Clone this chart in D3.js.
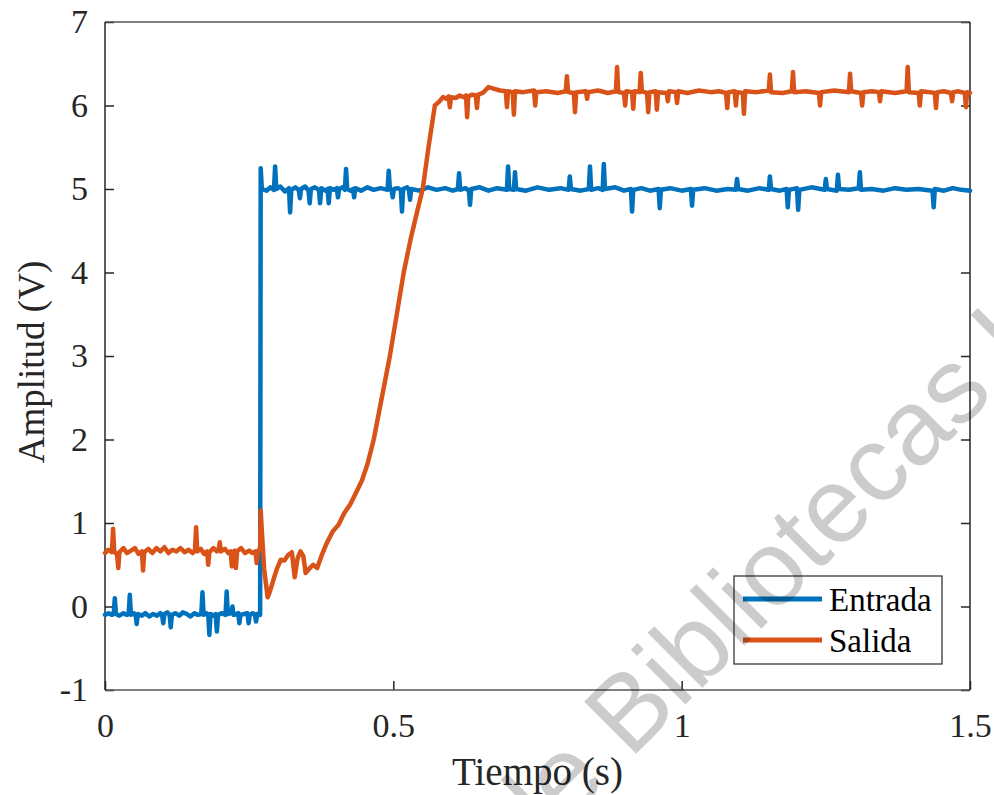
<!DOCTYPE html>
<html>
<head>
<meta charset="utf-8">
<script src="https://cdn.jsdelivr.net/npm/d3@7"></script>
<style>
  body { margin: 0; background: #fff; }
  svg { display: block; }
</style>
</head>
<body>
<svg id="chart" width="994" height="795"></svg>
<script>
// [tiempo (s), amplitud (V)]
var entrada = [
  [0.000,-0.10],[0.006,-0.08],[0.012,-0.10],[0.015,-0.09],[0.017,0.10],[0.019,-0.09],
  [0.025,-0.11],[0.032,-0.08],[0.038,-0.10],[0.041,-0.09],[0.043,0.14],[0.045,-0.10],
  [0.050,-0.08],[0.053,-0.10],[0.055,-0.21],[0.057,-0.09],[0.064,-0.11],[0.070,-0.08],
  [0.077,-0.12],[0.083,-0.09],[0.090,-0.11],[0.096,-0.08],[0.099,-0.10],[0.101,-0.20],
  [0.103,-0.09],[0.108,-0.07],[0.112,-0.10],[0.114,-0.25],[0.116,-0.10],[0.122,-0.08],
  [0.129,-0.11],[0.135,-0.07],[0.142,-0.09],[0.148,-0.12],[0.155,-0.08],[0.161,-0.10],
  [0.167,-0.09],[0.169,0.17],[0.171,-0.10],[0.176,-0.08],[0.179,-0.10],[0.181,-0.34],
  [0.183,-0.09],[0.188,-0.11],[0.192,-0.09],[0.194,-0.30],[0.196,-0.10],[0.203,-0.08],
  [0.209,-0.10],[0.211,0.18],[0.213,-0.09],[0.219,-0.08],[0.221,0.00],[0.223,-0.10],
  [0.229,-0.09],[0.231,-0.08],[0.233,-0.20],[0.235,-0.10],[0.241,-0.09],[0.247,-0.08],
  [0.249,-0.20],[0.251,-0.10],[0.256,-0.08],[0.260,-0.10],[0.262,-0.18],[0.264,-0.09],
  [0.269,-0.10],[0.270,5.25],[0.272,5.00],[0.280,4.98],[0.287,5.02],[0.293,4.99],
  [0.295,5.27],[0.297,5.00],[0.304,5.03],[0.312,4.97],[0.319,5.01],[0.321,4.72],
  [0.323,4.99],[0.330,5.02],[0.336,4.99],[0.338,4.89],[0.340,5.00],[0.347,5.03],
  [0.353,4.98],[0.355,4.83],[0.357,5.00],[0.364,5.02],[0.371,4.99],[0.373,4.83],
  [0.375,5.01],[0.382,4.98],[0.386,5.00],[0.388,4.83],[0.390,5.01],[0.397,4.99],
  [0.402,5.01],[0.404,4.90],[0.406,5.00],[0.412,5.02],[0.416,4.99],[0.418,5.24],
  [0.420,5.00],[0.426,4.98],[0.430,5.00],[0.432,4.90],[0.434,5.01],[0.444,4.98],
  [0.455,5.02],[0.466,4.99],[0.478,5.01],[0.490,4.99],[0.492,5.22],[0.494,5.00],
  [0.497,4.98],[0.499,4.90],[0.501,5.00],[0.508,5.01],[0.513,4.99],[0.515,4.73],
  [0.517,5.00],[0.524,5.02],[0.527,4.99],[0.529,4.87],[0.531,5.00],[0.545,4.98],
  [0.560,5.02],[0.575,4.99],[0.590,5.01],[0.603,4.98],[0.612,5.00],[0.614,5.19],
  [0.616,4.99],[0.625,5.01],[0.631,4.98],[0.633,4.81],[0.635,5.00],[0.650,5.02],
  [0.665,4.98],[0.680,5.01],[0.697,4.99],[0.699,5.27],[0.701,5.00],[0.709,4.99],
  [0.711,5.20],[0.713,5.00],[0.730,4.98],[0.750,5.02],[0.770,4.99],[0.790,5.01],
  [0.804,4.99],[0.806,5.15],[0.808,5.00],[0.825,4.98],[0.839,5.00],[0.841,5.27],
  [0.843,4.99],[0.855,5.01],[0.863,4.99],[0.865,5.30],[0.867,5.00],[0.885,5.02],
  [0.900,4.98],[0.912,5.00],[0.914,4.73],[0.916,4.99],[0.930,5.01],[0.945,4.98],
  [0.960,5.00],[0.962,4.77],[0.964,4.99],[0.980,5.01],[1.000,4.98],[1.016,5.00],
  [1.018,4.80],[1.020,4.99],[1.040,5.01],[1.060,4.98],[1.080,5.00],[1.094,4.99],
  [1.096,5.12],[1.098,5.00],[1.115,4.98],[1.135,5.01],[1.151,4.99],[1.153,5.15],
  [1.155,5.00],[1.170,4.98],[1.182,5.00],[1.184,4.78],[1.186,4.99],[1.200,5.01],
  [1.202,4.75],[1.204,4.99],[1.225,5.02],[1.248,4.99],[1.250,5.12],[1.252,5.00],
  [1.269,4.98],[1.271,5.17],[1.273,5.00],[1.290,4.99],[1.307,5.01],[1.309,5.20],
  [1.311,4.99],[1.330,5.00],[1.350,4.98],[1.370,5.01],[1.390,4.99],[1.410,5.00],
  [1.435,4.98],[1.437,4.78],[1.439,5.00],[1.455,4.98],[1.470,5.01],[1.485,4.99],
  [1.500,4.98]
];

var salida = [
  [0.000,0.64],[0.006,0.68],[0.012,0.65],[0.014,0.93],[0.016,0.66],[0.021,0.62],
  [0.023,0.46],[0.025,0.65],[0.032,0.70],[0.038,0.64],[0.045,0.67],[0.052,0.70],
  [0.058,0.63],[0.064,0.66],[0.066,0.43],[0.068,0.65],[0.075,0.69],[0.082,0.64],
  [0.089,0.70],[0.096,0.66],[0.103,0.71],[0.110,0.64],[0.117,0.68],[0.124,0.66],
  [0.131,0.70],[0.138,0.65],[0.145,0.68],[0.152,0.64],[0.156,0.67],[0.158,0.95],
  [0.160,0.66],[0.166,0.69],[0.172,0.63],[0.177,0.66],[0.179,0.50],[0.181,0.65],
  [0.188,0.70],[0.194,0.66],[0.197,0.68],[0.199,0.77],[0.201,0.66],[0.208,0.69],
  [0.214,0.64],[0.218,0.66],[0.220,0.48],[0.222,0.65],[0.225,0.67],[0.227,0.46],
  [0.229,0.66],[0.236,0.70],[0.243,0.64],[0.250,0.67],[0.256,0.64],[0.261,0.66],
  [0.263,0.52],[0.265,0.65],[0.269,0.70],[0.270,1.15],[0.272,0.90],[0.276,0.45],
  [0.282,0.11],[0.286,0.18],[0.292,0.32],[0.298,0.45],[0.305,0.56],[0.311,0.55],
  [0.318,0.62],[0.324,0.65],[0.329,0.35],[0.334,0.58],[0.339,0.66],[0.344,0.60],
  [0.348,0.40],[0.354,0.45],[0.361,0.50],[0.368,0.46],[0.375,0.60],[0.384,0.75],
  [0.395,0.90],[0.405,0.98],[0.415,1.12],[0.425,1.22],[0.435,1.36],[0.445,1.50],
  [0.455,1.70],[0.466,2.00],[0.480,2.50],[0.494,3.00],[0.506,3.50],[0.518,4.00],
  [0.530,4.40],[0.542,4.75],[0.551,5.00],[0.561,5.50],[0.572,6.00],[0.580,6.05],
  [0.586,6.10],[0.592,6.08],[0.596,6.11],[0.598,5.98],[0.600,6.10],[0.608,6.09],
  [0.615,6.12],[0.622,6.10],[0.626,6.12],[0.628,5.86],[0.630,6.11],[0.637,6.13],
  [0.643,6.12],[0.645,5.97],[0.647,6.13],[0.655,6.15],[0.665,6.22],[0.675,6.20],
  [0.685,6.18],[0.695,6.17],[0.697,5.98],[0.699,6.17],[0.707,6.16],[0.709,5.89],
  [0.711,6.17],[0.725,6.16],[0.744,6.18],[0.746,6.00],[0.748,6.16],[0.765,6.17],
  [0.785,6.15],[0.799,6.17],[0.801,6.35],[0.803,6.16],[0.813,6.15],[0.815,5.92],
  [0.817,6.16],[0.834,6.17],[0.836,6.08],[0.838,6.16],[0.855,6.18],[0.872,6.15],
  [0.886,6.17],[0.888,6.46],[0.890,6.16],[0.900,6.15],[0.902,6.00],[0.904,6.17],
  [0.914,6.16],[0.916,5.96],[0.918,6.17],[0.927,6.16],[0.929,6.39],[0.931,6.17],
  [0.940,6.15],[0.942,5.92],[0.944,6.16],[0.955,6.17],[0.957,5.95],[0.959,6.16],
  [0.974,6.15],[0.976,6.05],[0.978,6.17],[0.990,6.16],[0.992,6.03],[0.994,6.17],
  [1.010,6.15],[1.030,6.18],[1.050,6.16],[1.065,6.17],[1.077,6.15],[1.079,5.97],
  [1.081,6.16],[1.092,6.17],[1.094,6.00],[1.096,6.16],[1.106,6.15],[1.108,5.90],
  [1.110,6.17],[1.130,6.16],[1.151,6.18],[1.153,6.37],[1.155,6.16],[1.175,6.15],
  [1.191,6.17],[1.193,6.40],[1.195,6.16],[1.215,6.17],[1.238,6.15],[1.240,6.00],
  [1.242,6.16],[1.265,6.18],[1.290,6.16],[1.292,6.38],[1.294,6.17],[1.311,6.15],
  [1.313,6.00],[1.315,6.16],[1.330,6.17],[1.342,6.16],[1.344,6.05],[1.346,6.17],
  [1.370,6.15],[1.390,6.17],[1.392,6.46],[1.394,6.16],[1.411,6.15],[1.413,6.00],
  [1.415,6.17],[1.430,6.16],[1.439,6.15],[1.441,5.97],[1.443,6.16],[1.455,6.17],
  [1.467,6.15],[1.469,6.05],[1.471,6.16],[1.480,6.17],[1.491,6.15],[1.493,5.98],
  [1.495,6.16],[1.500,6.15]
];

var xTicks = [0, 0.5, 1, 1.5],
    yTicks = [-1, 0, 1, 2, 3, 4, 5, 6, 7],
    seriesNames = ['Entrada', 'Salida'],
    seriesColors = ['#0072BD', '#D95319'];

var svg = d3.select('#chart'),
    plotLeft = 105, plotRight = 970, plotTop = 22, plotBottom = 690,
    axisColor = '#262626',
    serif = '"Liberation Serif", "Times New Roman", serif';

svg.append('rect').attr('width', 994).attr('height', 795).attr('fill', '#fff');

var x = d3.scaleLinear().domain([0, 1.5]).range([plotLeft, plotRight]),
    y = d3.scaleLinear().domain([-1, 7]).range([plotBottom, plotTop]);

function styleAxis(g) {
  g.select('.domain').remove();
  g.selectAll('.tick line').attr('stroke', axisColor).attr('stroke-width', 1.5);
  g.selectAll('.tick text')
    .attr('fill', axisColor)
    .style('font-family', serif)
    .style('font-size', '34px');
}

svg.append('g')
    .attr('transform', 'translate(0,' + plotBottom + ')')
    .call(d3.axisBottom(x).tickValues(xTicks).tickSize(-9).tickSizeOuter(0).tickPadding(23)
            .tickFormat(function(d) { return String(d); }))
    .call(styleAxis);

svg.append('g')
    .attr('transform', 'translate(' + plotLeft + ',0)')
    .call(d3.axisLeft(y).tickValues(yTicks).tickSize(-9).tickSizeOuter(0).tickPadding(17)
            .tickFormat(function(d) { return d < 0 ? '-' + Math.abs(d) : String(d); }))
    .call(styleAxis);

svg.append('g')
    .attr('transform', 'translate(' + plotRight + ',0)')
    .call(d3.axisRight(y).tickValues(yTicks).tickSize(-9).tickSizeOuter(0).tickFormat(''))
    .call(styleAxis);

// box
svg.append('line').attr('x1', plotLeft).attr('x2', plotRight).attr('y1', plotTop).attr('y2', plotTop)
    .attr('stroke', '#555').attr('stroke-width', 1.5);
svg.append('line').attr('x1', plotLeft).attr('x2', plotRight).attr('y1', plotBottom).attr('y2', plotBottom)
    .attr('stroke', '#555').attr('stroke-width', 1.5);
svg.append('line').attr('x1', plotLeft).attr('x2', plotLeft).attr('y1', plotTop).attr('y2', plotBottom)
    .attr('stroke', axisColor).attr('stroke-width', 1.5);
svg.append('line').attr('x1', plotRight).attr('x2', plotRight).attr('y1', plotTop).attr('y2', plotBottom)
    .attr('stroke', axisColor).attr('stroke-width', 1.5);

// series
var line = d3.line()
    .x(function(d) { return x(d[0]); })
    .y(function(d) { return y(d[1]); });

[entrada, salida].forEach(function(data, i) {
  svg.append('path')
      .datum(data)
      .attr('d', line)
      .attr('fill', 'none')
      .attr('stroke', seriesColors[i])
      .attr('stroke-width', 4.5)
      .attr('stroke-linejoin', 'round')
      .attr('stroke-linecap', 'round');
});

// axis labels
svg.append('text')
    .attr('x', (plotLeft + plotRight) / 2)
    .attr('y', 785)
    .attr('text-anchor', 'middle')
    .attr('fill', axisColor)
    .style('font-family', serif)
    .style('font-size', '39px')
    .text('Tiempo (s)');

svg.append('text')
    .attr('transform', 'translate(44,' + ((plotTop + plotBottom) / 2 + 6) + ') rotate(-90)')
    .attr('text-anchor', 'middle')
    .attr('fill', axisColor)
    .style('font-family', serif)
    .style('font-size', '37px')
    .text('Amplitud (V)');

// legend
var legend = svg.append('g').attr('transform', 'translate(734,576)');
legend.append('rect')
    .attr('width', 208).attr('height', 88)
    .attr('fill', '#fff').attr('stroke', axisColor).attr('stroke-width', 1.2);
seriesNames.forEach(function(name, i) {
  var ly = 23 + i * 41;
  legend.append('line')
      .attr('x1', 9).attr('x2', 88).attr('y1', ly).attr('y2', ly)
      .attr('stroke', seriesColors[i]).attr('stroke-width', 5);
  legend.append('text')
      .attr('x', 95).attr('y', ly + 12)
      .attr('fill', '#000')
      .style('font-family', serif)
      .style('font-size', '33px')
      .text(name);
});

// watermark
var wm = svg.append('text')
    .attr('transform', 'translate(630,760) rotate(-45)')
    .attr('fill', '#000')
    .attr('fill-opacity', 0.2)
    .style('font-family', '"Liberation Sans", Arial, sans-serif')
    .style('font-size', '107px')
    .text('de Bibliotecas UNAM');
wm.attr('x', -wm.node().getSubStringLength(0, 3));
</script>
</body>
</html>
